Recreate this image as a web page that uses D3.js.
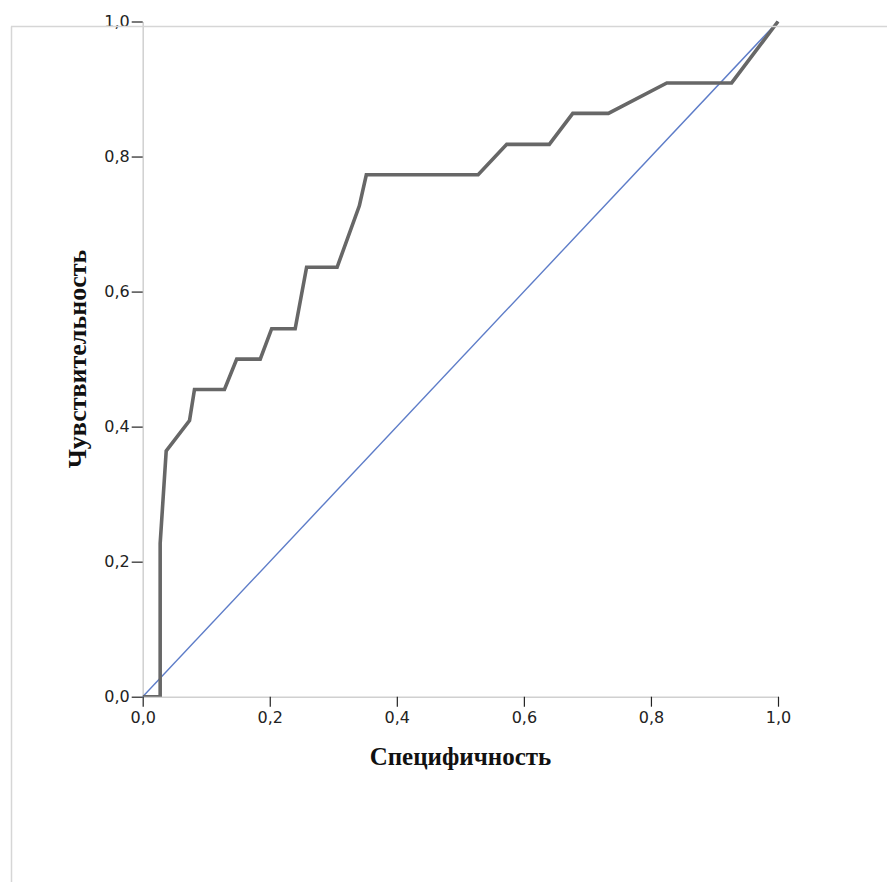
<!DOCTYPE html>
<html>
<head>
<meta charset="utf-8">
<script src="https://cdn.jsdelivr.net/npm/d3@7/dist/d3.min.js"></script>
<style>
  html, body { margin: 0; padding: 0; background: #fff; }
  svg { display: block; }
</style>
</head>
<body>
<svg id="chart" width="887" height="882"></svg>
<script>
// ROC curve: x = 1 - specificity, y = sensitivity
const rocX = [0, 0.0275, 0.0275, 0.037, 0.0737, 0.0815, 0.1287, 0.148, 0.185, 0.203, 0.240, 0.258, 0.306, 0.341, 0.352, 0.528, 0.573, 0.640, 0.677, 0.733, 0.825, 0.927, 1.0];
const rocY = [0, 0, 0.227, 0.364, 0.409, 0.455, 0.455, 0.500, 0.500, 0.545, 0.545, 0.636, 0.636, 0.727, 0.773, 0.773, 0.818, 0.818, 0.864, 0.864, 0.909, 0.909, 1.0];
const refX = [0, 1];
const refY = [0, 1];
const tickValues = [0, 0.2, 0.4, 0.6, 0.8, 1.0];
const tickLabels = ["0,0", "0,2", "0,4", "0,6", "0,8", "1,0"];
const xTitle = "Специфичность";
const yTitle = "Чувствительность";

const svg = d3.select("#chart");
const x = d3.scaleLinear().domain([0, 1]).range([142.7, 778]);
const y = d3.scaleLinear().domain([0, 1]).range([696.7, 21.5]);

svg.append("clipPath").attr("id", "plotclip").append("rect")
  .attr("x", x(0)).attr("y", y(1) - 3).attr("width", x(1) - x(0) + 3).attr("height", y(0) - y(1) + 3);

// axes
const yAxis = d3.axisLeft(y).tickValues(tickValues)
  .tickFormat((d, i) => tickLabels[i]).tickSizeInner(11).tickSizeOuter(0).tickPadding(2);
const xAxis = d3.axisBottom(x).tickValues(tickValues)
  .tickFormat((d, i) => tickLabels[i]).tickSizeInner(10).tickSizeOuter(0).tickPadding(5);

const gy = svg.append("g").attr("transform", `translate(${x(0)},0)`).call(yAxis);
const gx = svg.append("g").attr("transform", `translate(0,${y(0)})`).call(xAxis);
[gx, gy].forEach(g => {
  g.select(".domain").attr("stroke", "#d0d0d0").attr("stroke-width", 1.5);
  g.selectAll(".tick line").attr("stroke", "#222").attr("stroke-width", 1.2);
  g.selectAll(".tick text").attr("fill", "#222")
    .style("font-family", "'DejaVu Sans', sans-serif").style("font-size", "16px");
});

// reference diagonal
svg.append("path")
  .datum(refX.map((d, i) => [d, refY[i]]))
  .attr("fill", "none").attr("stroke", "#5d7cc8").attr("stroke-width", 1.4)
  .attr("d", d3.line().x(d => x(d[0])).y(d => y(d[1])));

// ROC curve
svg.append("path")
  .datum(rocX.map((d, i) => [d, rocY[i]]))
  .attr("clip-path", "url(#plotclip)")
  .attr("fill", "none").attr("stroke", "#676767").attr("stroke-width", 3.6)
  .attr("stroke-linejoin", "miter")
  .attr("d", d3.line().x(d => x(d[0])).y(d => y(d[1])));

// outer frame lines
svg.append("line").attr("x1", 11).attr("x2", 887).attr("y1", 26.5).attr("y2", 26.5)
  .attr("stroke", "#d6d6d6").attr("stroke-width", 1.5);
svg.append("line").attr("x1", 11.5).attr("x2", 11.5).attr("y1", 26.5).attr("y2", 882)
  .attr("stroke", "#d6d6d6").attr("stroke-width", 1.5);

// titles
svg.append("text").attr("x", 460.5).attr("y", 765)
  .attr("text-anchor", "middle").attr("fill", "#111")
  .style("font-family", "'Liberation Serif', 'Times New Roman', serif")
  .style("font-weight", "bold").style("font-size", "25px")
  .text(xTitle);
svg.append("text").attr("transform", "translate(86,359) rotate(-90)")
  .attr("text-anchor", "middle").attr("fill", "#111")
  .style("font-family", "'Liberation Serif', 'Times New Roman', serif")
  .style("font-weight", "bold").style("font-size", "26px")
  .text(yTitle);
</script>
</body>
</html>
